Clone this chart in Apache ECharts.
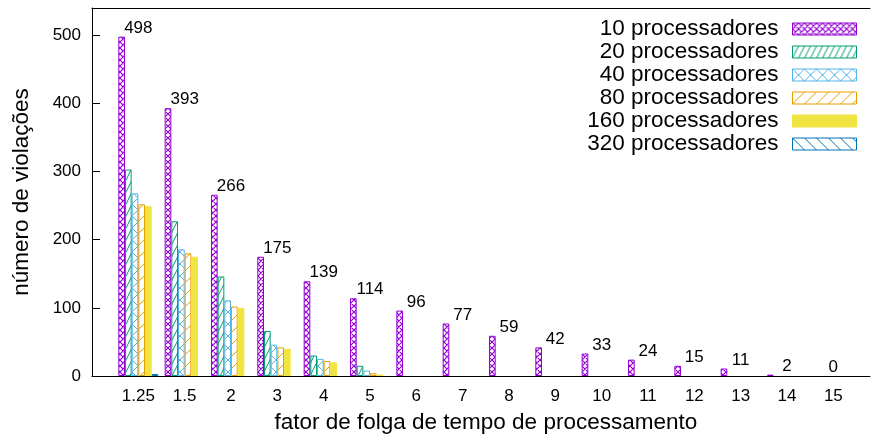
<!DOCTYPE html>
<html>
<head>
<meta charset="utf-8">
<script src="https://cdn.jsdelivr.net/npm/echarts@6/dist/echarts.min.js"></script>
<style>
  html, body { margin: 0; padding: 0; background: #fff; }
  #chart { width: 873px; height: 434px; }
</style>
</head>
<body>
<div id="chart"></div>
<script>
// Slack factors on the category axis
const categories = ['1.25', '1.5', '2', '3', '4', '5', '6', '7', '8', '9', '10', '11', '12', '13', '14', '15'];

// Number of violations per processor count
const seriesNames = ['10 processadores', '20 processadores', '40 processadores',
                     '80 processadores', '160 processadores', '320 processadores'];
const proc10  = [498, 393, 266, 175, 139, 114, 96, 77, 59, 42, 33, 24, 15, 11, 2, 0];
const proc20  = [303, 227, 146, 66, 30, 15, 0, 0, 0, 0, 0, 0, 0, 0, 0, 0];
const proc40  = [268, 186, 111, 46, 25, 8, 0, 0, 0, 0, 0, 0, 0, 0, 0, 0];
const proc80  = [252, 180, 102, 42, 22, 4, 0, 0, 0, 0, 0, 0, 0, 0, 0, 0];
const proc160 = [249, 175, 100, 40, 20, 2, 0, 0, 0, 0, 0, 0, 0, 0, 0, 0];
const proc320 = [3, 0, 0, 0, 0, 0, 0, 0, 0, 0, 0, 0, 0, 0, 0, 0];
const seriesData = [proc10, proc20, proc40, proc80, proc160, proc320];

const yMax = 540;
const yStep = 100;

const FONT = "'Liberation Sans', Arial, sans-serif";
const colors = ['#9400d3', '#009e73', '#56b4e9', '#e69f00', '#f0e442', '#0072b2'];

// Small repeating tiles with hatch lines on a white ground
function hatch(color, w, h, lines, lw) {
  const c = document.createElement('canvas');
  c.width = w; c.height = h;
  const g = c.getContext('2d');
  g.fillStyle = '#fff';
  g.fillRect(0, 0, w, h);
  g.strokeStyle = color;
  g.lineWidth = lw;
  g.beginPath();
  for (const dx of [-w, 0, w]) {
    for (const dy of [-h, 0, h]) {
      lines.forEach(([x1, y1, x2, y2]) => {
        g.moveTo(x1 + dx, y1 + dy);
        g.lineTo(x2 + dx, y2 + dy);
      });
    }
  }
  g.stroke();
  return { image: c, repeat: 'repeat' };
}

const fills = [
  hatch(colors[0], 6, 6, [[0, 0, 6, 6], [0, 6, 6, 0]], 1.2),
  hatch(colors[1], 6, 12, [[0, 12, 6, 0]], 1),
  hatch(colors[2], 12, 12, [[0, 0, 12, 12], [0, 12, 12, 0]], 1),
  hatch(colors[3], 12, 12, [[0, 12, 12, 0]], 1),
  colors[4],
  hatch(colors[5], 12, 12, [[0, 0, 12, 12]], 1)
];

const chart = echarts.init(document.getElementById('chart'), null, { renderer: 'canvas' });

// Empty bars get no outline, so nothing is drawn along the baseline
const toItems = arr => arr.map(v => (v === 0 ? { value: v, itemStyle: { borderWidth: 0 } } : v));

const series = seriesNames.map((name, i) => ({
  name: name,
  type: 'bar',
  xAxisIndex: 2,
  yAxisIndex: 1,
  barWidth: 6.67,
  barGap: '0%',
  data: toItems(seriesData[i]),
  itemStyle: { color: fills[i], borderColor: colors[i], borderWidth: 1 },
  label: i === 0 ? {
    show: true,
    position: [20, -8.5],
    align: 'center',
    verticalAlign: 'middle',
    fontSize: 17,
    fontFamily: FONT,
    color: '#000'
  } : { show: false }
}));

chart.setOption({
  animation: false,
  backgroundColor: '#fff',
  grid: [
    { left: 92, right: 3, top: 8, bottom: 58, outerBoundsMode: 'none' },
    { left: 115.17, width: 741.33, top: 8, bottom: 58, outerBoundsMode: 'none' }
  ],
  legend: {
    data: seriesNames,
    orient: 'vertical',
    align: 'right',
    right: 16,
    top: 17.5,
    padding: 0,
    itemGap: 0,
    itemWidth: 64,
    itemHeight: 12,
    icon: 'rect',
    itemStyle: { borderWidth: 1 },
    textStyle: { fontSize: 22.5, fontFamily: FONT, color: '#000', lineHeight: 22.6, padding: [0, 9, 0, 0] }
  },
  xAxis: [
    {
      gridIndex: 0, type: 'value', min: 0, max: 1, position: 'bottom', z: 5,
      axisLine: { show: true, onZero: false, lineStyle: { color: '#000', width: 1 } },
      axisTick: { show: false }, axisLabel: { show: false }, splitLine: { show: false }
    },
    {
      gridIndex: 0, type: 'value', min: 0, max: 1, position: 'top',
      axisLine: { show: true, onZero: false, lineStyle: { color: '#000', width: 1 } },
      axisTick: { show: false }, axisLabel: { show: false }, splitLine: { show: false }
    },
    {
      gridIndex: 1, type: 'category', data: categories,
      axisLine: { show: false }, axisTick: { show: false },
      axisLabel: { interval: 0, fontSize: 17, fontFamily: FONT, color: '#000', margin: 12 },
      name: 'fator de folga de tempo de processamento',
      nameLocation: 'middle', nameGap: 35,
      nameTextStyle: { fontSize: 22.5, fontFamily: FONT, color: '#000' }
    }
  ],
  yAxis: [
    {
      gridIndex: 0, type: 'value', min: 0, max: yMax, interval: yStep,
      axisLine: { show: true, onZero: false, lineStyle: { color: '#000', width: 1 } },
      axisTick: { show: true, inside: true, length: 8, lineStyle: { color: '#000' } },
      axisLabel: {
        fontSize: 17, fontFamily: FONT, color: '#000', margin: 11, showMaxLabel: false,
        formatter: v => (v % yStep === 0 ? String(v) : '')
      },
      splitLine: { show: false },
      name: 'número de violações', nameLocation: 'middle', nameGap: 59,
      nameTextStyle: { fontSize: 22.5, fontFamily: FONT, color: '#000' }
    },
    { gridIndex: 1, type: 'value', min: 0, max: yMax, show: false }
  ],
  series: series
});
</script>
</body>
</html>
